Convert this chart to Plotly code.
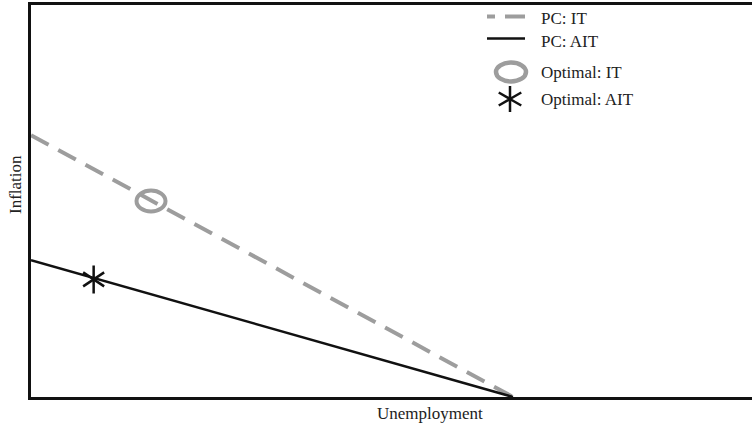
import plotly.graph_objects as go

# ---- data ----
unemployment = [0.0, 1.0]
pc_it = [0.668, 0.0]
pc_ait = [0.349, 0.0]
optimal_it = (0.249, 0.50)
optimal_ait = (0.13, 0.30)
series_names = ["PC: IT", "PC: AIT", "Optimal: IT", "Optimal: AIT"]
x_title = "Unemployment"
y_title = "Inflation"

# ---- styles / layout constants ----
W, H = 752, 428
L, R, T, B = 31, 0, 5, 31
GRAY = "#9d9d9d"
BLACK = "#111111"
FONT = "Liberation Serif"
FS = 17


def px(x):
    return (x - L) / (W - L - R)


def py(y):
    return (H - B - y) / (H - T - B)


fig = go.Figure()

fig.add_trace(go.Scatter(
    x=unemployment, y=pc_it, mode="lines", name=series_names[0],
    line=dict(color=GRAY, width=4, dash="20px,11px"), showlegend=False))
fig.add_trace(go.Scatter(
    x=unemployment, y=pc_ait, mode="lines", name=series_names[1],
    line=dict(color=BLACK, width=2.5), showlegend=False))
fig.add_trace(go.Scatter(
    x=[optimal_ait[0], optimal_ait[0]], y=[optimal_ait[1], optimal_ait[1]],
    mode="markers", name=series_names[3], showlegend=False,
    marker=dict(symbol=["y-up-open", "y-down-open"], size=17.5, color=BLACK,
                line=dict(color=BLACK, width=2.5))))

shapes = []
# ellipse for optimal IT, anchored at the data point
shapes.append(dict(type="circle", xref="x", yref="y",
                   xsizemode="pixel", ysizemode="pixel",
                   xanchor=optimal_it[0], yanchor=optimal_it[1],
                   x0=-14.5, x1=14.5, y0=-10.5, y1=10.5,
                   line=dict(color=GRAY, width=4)))

# ---- manual legend ----
leg_text_x = 539
rows_icon = [16.5, 38.5, 72, 99]
rows_text = [19, 42, 73, 99]
# dashed
shapes.append(dict(type="line", xref="paper", yref="paper",
                   x0=px(487), x1=px(495), y0=py(rows_icon[0]), y1=py(rows_icon[0]),
                   line=dict(color=GRAY, width=4)))
shapes.append(dict(type="line", xref="paper", yref="paper",
                   x0=px(505), x1=px(525), y0=py(rows_icon[0]), y1=py(rows_icon[0]),
                   line=dict(color=GRAY, width=4)))
# solid
shapes.append(dict(type="line", xref="paper", yref="paper",
                   x0=px(487), x1=px(525), y0=py(rows_icon[1]), y1=py(rows_icon[1]),
                   line=dict(color=BLACK, width=2.5)))
# ellipse
shapes.append(dict(type="circle", xref="paper", yref="paper",
                   xsizemode="pixel", ysizemode="pixel",
                   xanchor=px(511), yanchor=py(rows_icon[2]),
                   x0=-15, x1=15, y0=-9.5, y1=9.5,
                   line=dict(color=GRAY, width=4.5)))
# asterisk
r = 13
c, s = r * 0.866, r * 0.5
shapes.append(dict(type="path", xref="paper", yref="paper",
                   xsizemode="pixel", ysizemode="pixel",
                   xanchor=px(510), yanchor=py(rows_icon[3]),
                   path=f"M0,{-r} L0,{r} M{-c},{-s} L{c},{s} M{-c},{s} L{c},{-s}",
                   line=dict(color=BLACK, width=2.5)))

annotations = []
for name, yy in zip(series_names, rows_text):
    annotations.append(dict(text=name, xref="paper", yref="paper",
                            x=px(leg_text_x), y=py(yy), xanchor="left", yanchor="middle",
                            showarrow=False, font=dict(family=FONT, size=FS, color="#222")))
annotations.append(dict(text=x_title, xref="paper", yref="paper",
                        x=px(430), y=py(414), xanchor="center", yanchor="middle",
                        showarrow=False, font=dict(family=FONT, size=FS, color="#222")))
annotations.append(dict(text=y_title, xref="paper", yref="paper",
                        x=px(16), y=py(185), xanchor="center", yanchor="middle",
                        textangle=-90,
                        showarrow=False, font=dict(family=FONT, size=FS, color="#222")))

axis_common = dict(showgrid=False, zeroline=False, showticklabels=False, ticks="",
                   showline=True, linecolor=BLACK, linewidth=2.5, fixedrange=True)
fig.update_layout(
    width=W, height=H,
    margin=dict(l=L, r=R, t=T, b=B, pad=0),
    paper_bgcolor="white", plot_bgcolor="white",
    xaxis=dict(range=[0, 1.496], mirror=True, **axis_common),
    yaxis=dict(range=[0, 1], mirror=False, **axis_common),
    shapes=shapes, annotations=annotations, showlegend=False,
)

fig.write_html("out.html", config={"displayModeBar": False},
               post_script="document.body.style.margin='0px';document.body.style.overflow='hidden';")
